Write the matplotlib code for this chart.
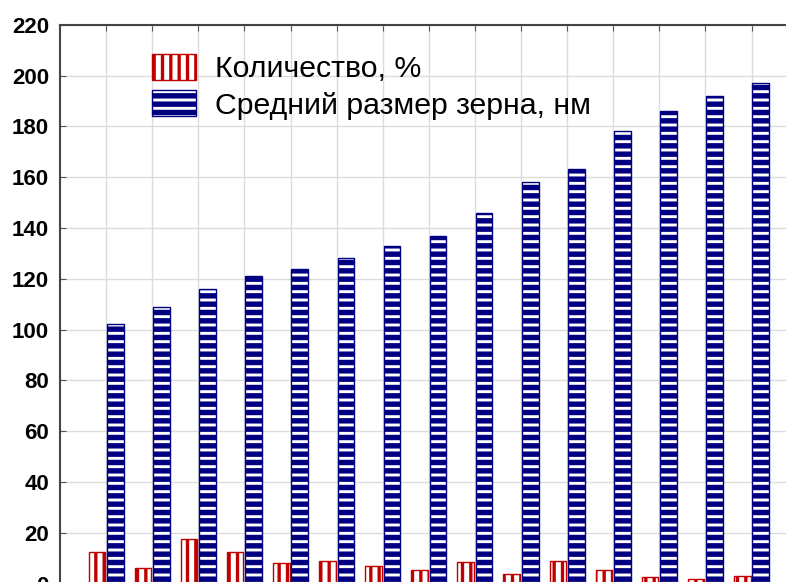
import numpy as np
import matplotlib.pyplot as plt

# values
positions = list(range(15))
share_pct = [12.5, 6.2, 17.5, 12.3, 8.1, 8.8, 6.8, 5.2, 8.4, 3.9, 8.9, 5.5, 2.4, 1.8, 2.9]
grain_nm = [102, 109, 116, 121, 124, 128, 133, 137, 146, 158, 163, 178, 186, 192, 197]
labels = ["Количество, %", "Средний размер зерна, нм"]
y_ticks = list(range(0, 221, 20))

plt.rcParams['font.family'] = ['Liberation Sans', 'DejaVu Sans']
plt.rcParams['hatch.linewidth'] = 2.8

fig = plt.figure(figsize=(7.86, 5.82), dpi=100)
ax = fig.add_axes([60 / 786, -1.5 / 582, 737.6 / 786, 558.8 / 582])

x = np.array(positions)
red = '#c00000'
navy = '#000080'
hatch_lw = [2.4, 3.9]

red_bars = ax.bar(x - 0.2, share_pct, width=0.36, facecolor='white', edgecolor=red,
                  hatch='||', linewidth=1.0, label=labels[0], zorder=3)
blue_bars = ax.bar(x + 0.2, grain_nm, width=0.36, facecolor='white', edgecolor=navy,
                   hatch='--', linewidth=1.0, label=labels[1], zorder=3)

# per-bar hatch widths where the installed matplotlib supports it
for bars, lw in zip([red_bars, blue_bars], hatch_lw):
    for b in bars:
        if hasattr(b, 'set_hatch_linewidth'):
            b.set_hatch_linewidth(lw)

ax.set_xlim(-1, 15)
ax.set_ylim(0, 220)
ax.set_xticks(positions)
ax.set_yticks(y_ticks)
ax.grid(True, color='#dcdcdc', linewidth=1.0, zorder=0)
ax.set_axisbelow(True)

ax.tick_params(axis='x', direction='in', top=True, bottom=False,
               labelbottom=False, length=4, color='#555555')
ax.tick_params(axis='y', direction='in', length=4, pad=8, color='#555555',
               labelsize=16)
for t in ax.get_yticklabels():
    t.set_fontweight('bold')

for side in ['right', 'bottom']:
    ax.spines[side].set_visible(False)
for side in ['left', 'top']:
    ax.spines[side].set_color('#444444')
    ax.spines[side].set_linewidth(1.5)

leg = ax.legend(loc='upper left', bbox_to_anchor=(152 / 786, 1 - 54 / 582),
                bbox_transform=fig.transFigure, frameon=False, fontsize=21.8,
                handlelength=1.45, handleheight=0.95, handletextpad=0.62,
                labelspacing=0.22, borderaxespad=0, borderpad=0)
for h, lw in zip(leg.legend_handles, hatch_lw):
    if hasattr(h, 'set_hatch_linewidth'):
        h.set_hatch_linewidth(lw)

fig.savefig('out.png', dpi=100)
